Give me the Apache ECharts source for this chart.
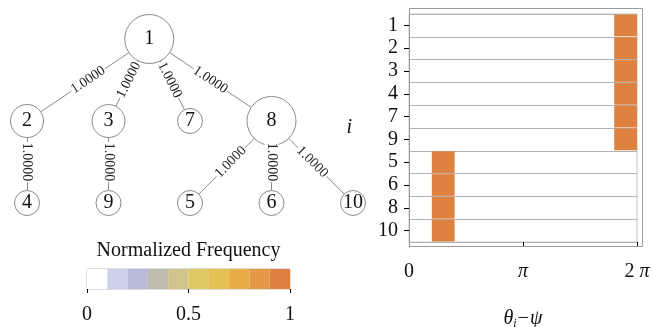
<!DOCTYPE html>
<html>
<head>
<meta charset="utf-8">
<script src="https://cdn.jsdelivr.net/npm/echarts@6/dist/echarts.min.js"></script>
<style>
html, body { margin: 0; padding: 0; background: #fff; }
#main { width: 652px; height: 327px; }
</style>
</head>
<body>
<div id="main"></div>
<script>
// tree: each node sits at a column / level
var nodeNames = ['1', '2', '3', '7', '8', '4', '9', '5', '6', '10'];
var nodeCol = [1.5, 0, 1, 2, 3, 0, 1, 2, 3, 4];
var nodeLevel = [0, 1, 1, 1, 1, 2, 2, 2, 2, 2];
var edgeFrom = ['1', '1', '1', '1', '2', '3', '8', '8', '8'];
var edgeTo = ['2', '3', '7', '8', '4', '9', '5', '6', '10'];
var edgeWeight = [1, 1, 1, 1, 1, 1, 1, 1, 1];

// phase histogram (x in units of pi)
var rowLabels = ['1', '2', '3', '4', '7', '9', '5', '6', '8', '10'];
var binEdges = [0, 0.2, 0.4, 0.6, 0.8, 1.0, 1.2, 1.4, 1.6, 1.8, 2.0];
var freq = [
  [0, 0, 0, 0, 0, 0, 0, 0, 0, 1],
  [0, 0, 0, 0, 0, 0, 0, 0, 0, 1],
  [0, 0, 0, 0, 0, 0, 0, 0, 0, 1],
  [0, 0, 0, 0, 0, 0, 0, 0, 0, 1],
  [0, 0, 0, 0, 0, 0, 0, 0, 0, 1],
  [0, 0, 0, 0, 0, 0, 0, 0, 0, 1],
  [0, 1, 0, 0, 0, 0, 0, 0, 0, 0],
  [0, 1, 0, 0, 0, 0, 0, 0, 0, 0],
  [0, 1, 0, 0, 0, 0, 0, 0, 0, 0],
  [0, 1, 0, 0, 0, 0, 0, 0, 0, 0]
];

// colour bar
var cbEdges = [0, 0.1, 0.2, 0.3, 0.4, 0.5, 0.6, 0.7, 0.8, 0.9, 1.0];
var palette = ['#ffffff', '#cdd1ea', '#b8bcda', '#bebcae', '#d1c48b', '#e1c866',
               '#e6c153', '#e8ad48', '#e49a47', '#de8141'];

var FONT = 'Liberation Serif';

function colorOf(v) {
  return palette[Math.min(palette.length - 1, Math.floor(v * 10))];
}

var degree = {};
edgeFrom.concat(edgeTo).forEach(function (n) { degree[n] = (degree[n] || 0) + 1; });

var nodes = nodeNames.map(function (n, i) {
  return { name: n, value: [nodeCol[i], nodeLevel[i]], symbolSize: 17 + 8 * degree[n] };
});
var links = edgeFrom.map(function (s, i) {
  return { source: s, target: edgeTo[i], value: edgeWeight[i] };
});

var cells = [];
freq.forEach(function (row, r) {
  row.forEach(function (v, b) {
    if (v > 0) cells.push([binEdges[b], r, v, binEdges[b + 1]]);
  });
});

var cbCells = [];
for (var k = 0; k < cbEdges.length - 1; k++) {
  cbCells.push([cbEdges[k], 0, k, cbEdges[k + 1]]);
}

function rectItem(params, api, fill, gap) {
  var p0 = api.coord([api.value(0), api.value(1)]);
  var p1 = api.coord([api.value(3), api.value(1)]);
  var h = api.size([0, 1])[1];
  return {
    type: 'rect',
    shape: { x: p0[0], y: p0[1] - h / 2 + gap, width: p1[0] - p0[0], height: h - 2 * gap },
    style: { fill: fill }
  };
}

var chart = echarts.init(document.getElementById('main'));
var option = {
  animation: false,
  backgroundColor: '#fff',
  textStyle: { fontFamily: FONT },
  graphic: [{
    type: 'rect',
    shape: { x: 409.5, y: 8.5, width: 233, height: 238 },
    style: { fill: null, stroke: '#9a9a9a', lineWidth: 1 },
    z: 10
  }],
  grid: [
    { left: 409, top: 14, width: 228, height: 228, show: true, borderColor: '#c4c4c4', borderWidth: 1,
      containLabel: false, outerBoundsMode: 'none' },
    { left: 87, top: 269, width: 203, height: 20, show: true, borderColor: '#bdbdbd', borderWidth: 1,
      containLabel: false, outerBoundsMode: 'none' },
    { left: 27, top: 39, width: 326, height: 164, containLabel: false, outerBoundsMode: 'none' }
  ],
  xAxis: [
    {
      gridIndex: 0, type: 'value', min: 0, max: 2, interval: 1,
      axisLine: { show: false },
      axisTick: { show: true, length: 5, lineStyle: { color: '#000' } },
      splitLine: { show: false },
      axisLabel: {
        margin: 20, fontSize: 20, color: '#111', fontFamily: FONT,
        formatter: function (v) {
          if (v === 0) return '0';
          if (v === 1) return '{i|π}';
          return '2 {i|π}';
        },
        rich: { i: { fontStyle: 'italic', fontSize: 20, fontFamily: FONT, color: '#111' } }
      },
      name: '{a|θ}{s|i}{a|−ψ}',
      nameLocation: 'middle', nameGap: 66,
      nameTextStyle: {
        rich: {
          a: { fontStyle: 'italic', fontSize: 20, fontFamily: FONT, color: '#111' },
          s: { fontStyle: 'italic', fontSize: 12, fontFamily: FONT, color: '#111', padding: [10, 0, 0, 0] }
        }
      }
    },
    {
      gridIndex: 1, type: 'value', min: 0, max: 1, interval: 0.5,
      axisLine: { show: false },
      axisTick: { show: true, length: 4, lineStyle: { color: '#000' } },
      splitLine: { show: false },
      axisLabel: {
        margin: 16, fontSize: 20, color: '#111', fontFamily: FONT,
        formatter: function (v) { return String(v); }
      }
    },
    {
      gridIndex: 1, type: 'value', min: 0, max: 1, position: 'top',
      axisLine: { show: false }, axisTick: { show: false }, axisLabel: { show: false },
      splitLine: { show: false },
      name: 'Normalized Frequency', nameLocation: 'middle', nameGap: 8,
      nameTextStyle: { fontSize: 20, color: '#111', fontFamily: FONT }
    },
    { gridIndex: 2, type: 'value', min: 0, max: 4, show: false }
  ],
  yAxis: [
    {
      gridIndex: 0, type: 'category', data: rowLabels, inverse: true,
      axisLine: { show: false },
      axisTick: { show: true, alignWithLabel: true, length: 5, interval: 0, lineStyle: { color: '#000' } },
      splitLine: { show: true, interval: 0, lineStyle: { color: '#b4b4b4' } },
      axisLabel: { interval: 0, margin: 11, fontSize: 20, color: '#111', fontFamily: FONT },
      name: 'i', nameLocation: 'middle', nameRotate: 0, nameGap: 57,
      nameTextStyle: { fontStyle: 'italic', fontSize: 20, color: '#111', fontFamily: FONT }
    },
    {
      gridIndex: 1, type: 'category', data: [''],
      axisLine: { show: false }, axisTick: { show: false }, axisLabel: { show: false }
    },
    { gridIndex: 2, type: 'value', min: 0, max: 2, inverse: true, show: false }
  ],
  series: [
    {
      type: 'custom', xAxisIndex: 0, yAxisIndex: 0,
      data: cells,
      renderItem: function (params, api) {
        return rectItem(params, api, colorOf(api.value(2)), 0.5);
      }
    },
    {
      type: 'custom', xAxisIndex: 1, yAxisIndex: 1,
      data: cbCells,
      renderItem: function (params, api) {
        return rectItem(params, api, palette[api.value(2)], 0);
      }
    },
    {
      type: 'graph', coordinateSystem: 'cartesian2d', xAxisIndex: 3, yAxisIndex: 2,
      layout: 'none',
      data: nodes,
      links: links,
      symbol: 'circle',
      itemStyle: { color: '#fff', borderColor: '#8a8a8a', borderWidth: 1 },
      lineStyle: { color: '#8a8a8a', width: 1, opacity: 1 },
      label: { show: true, position: 'inside', fontSize: 20, color: '#111', fontFamily: FONT },
      edgeLabel: {
        show: true, position: 'middle', distance: 0, verticalAlign: 'middle',
        fontSize: 14, color: '#222', fontFamily: FONT,
        backgroundColor: '#fff', padding: [0, 1],
        formatter: function (p) { return p.value.toFixed(4); }
      },
      emphasis: { disabled: true }
    }
  ]
};
chart.setOption(option);
</script>
</body>
</html>
